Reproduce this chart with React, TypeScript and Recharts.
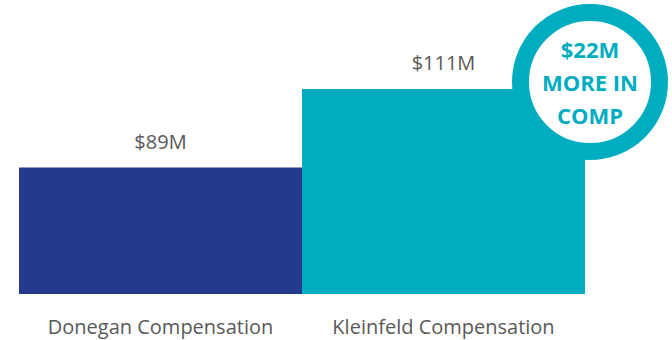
import React from 'react';
import { BarChart, Bar, XAxis, YAxis, Cell, LabelList } from 'recharts';

const categories = ['Donegan Compensation', 'Kleinfeld Compensation'];
const values = [89, 111];
const colors = ['#25398D', '#00ADC0'];
const annotationLines = ['$22M', 'MORE IN', 'COMP'];

const data = categories.map((name, i) => ({ name, value: values[i] }));

const W = 672;
const H = 340;
const margin = { top: 20, right: 87, bottom: 0, left: 19 };

const Badge = () => {
  const cx = W - margin.right + 5;
  const cy = 82;
  return (
    <svg width={W} height={H} style={{ position: 'absolute', left: 0, top: 0, pointerEvents: 'none' }}>
      <circle cx={cx} cy={cy} r={69.5} fill="#ffffff" stroke="#00ADC0" strokeWidth={17} />
      {annotationLines.map((t, i) => (
        <text
          key={t}
          x={cx}
          y={58 + i * 33}
          textAnchor="middle"
          fill="#00ADC0"
          fontFamily="'Open Sans', sans-serif"
          fontWeight={700}
          fontSize={22}
        >
          {t}
        </text>
      ))}
    </svg>
  );
};

export default function App() {
  return (
    <div style={{ position: 'absolute', left: 0, top: 0, width: W, height: H, background: '#fff' }}>
      <BarChart width={W} height={H} data={data} margin={margin} barCategoryGap={0}>
        <YAxis hide domain={[53.5, 130.4]} allowDataOverflow />
        <XAxis
          dataKey="name"
          axisLine={false}
          tickLine={false}
          height={46}
          interval={0}
          tick={{ fill: '#595959', fontSize: 20, fontFamily: "'Open Sans', sans-serif" }}
          tickMargin={20}
        />
        <Bar dataKey="value" isAnimationActive={false}>
          {data.map((d, i) => (
            <Cell key={d.name} fill={colors[i]} />
          ))}
          <LabelList
            dataKey="value"
            position="top"
            offset={19}
            formatter={(v: number) => `$${v}M`}
            style={{ fill: '#595959', fontSize: 20, fontFamily: "'Open Sans', sans-serif" }}
          />
        </Bar>
      </BarChart>
      <Badge />
    </div>
  );
}
